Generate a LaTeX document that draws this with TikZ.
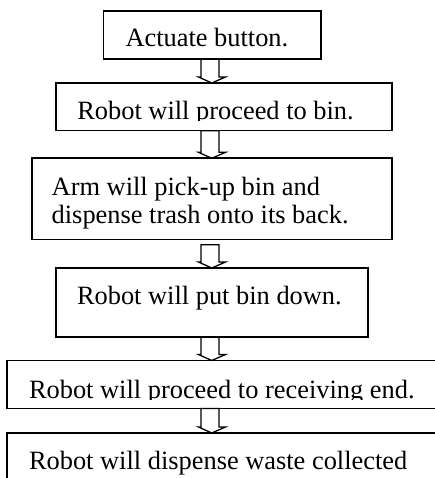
\documentclass[tikz,border=0pt]{standalone}
\usepackage{fontspec}
\setmainfont{Liberation Serif}
\usetikzlibrary{calc}
\tikzset{
  box/.style={draw, line width=1.6pt, inner sep=0pt, outer sep=0pt, anchor=north west},
  txt/.style={anchor=base west, inner sep=0pt, outer sep=0pt, font=\fontsize{26.4}{28}\selectfont},
  arr/.style={draw, line width=1.3pt, line join=miter},
}
\newcommand\blockarrow[2]{%
  \draw[arr] let \p1=(#1), \p2=(#2) in
    (\x1-9pt,\y1) -- (\x1-9pt,\y2+6pt) -- (\x1-11.5pt,\y2+6pt) -- (\x1+1.7pt,\y2)
    -- (\x1+15.5pt,\y2+6pt) -- (\x1+9pt,\y2+6pt) -- (\x1+9pt,\y1) -- cycle;}
\begin{document}
\begin{tikzpicture}[x=1pt,y=-1pt]
  \useasboundingbox (0,0) rectangle (435,478);
  \clip (0,0) rectangle (435,478);
  \coordinate (ax) at (210,0);
  % boxes
  \node[box, minimum width=217.2pt, minimum height=48pt] (b1) at (103.5,11) {};
  \node[box, minimum width=335.7pt, minimum height=47.7pt] (b2) at (56,83) {};
  \node[box, minimum width=360.3pt, minimum height=81pt] (b3) at (31.7,158.3) {};
  \node[box, minimum width=312pt, minimum height=69pt] (b4) at (56,268) {};
  \node[box, minimum width=438pt, minimum height=48pt] (b5) at (7,360.5) {};
  \node[box, minimum width=438pt, minimum height=62pt] (b6) at (7,433) {};
  % texts
  \node[txt] (t1) at ($(b1.north west)+(22,35.7)$) {Actuate button.};
  \begin{scope}
    \clip (0,0) rectangle (435,120.3);
    \node[txt] (t2) at ($(b2.north west)+(21.3,36.3)$) {Robot will proceed to bin.};
  \end{scope}
  \node[txt] (t3) at ($(b3.north west)+(20,37.4)$) {Arm will pick-up bin and};
  \node[txt] (t3b) at ($(t3.base west)+(0,28)$) {dispense trash onto its back.};
  \node[txt] (t4) at ($(b4.north west)+(21,36.3)$) {Robot will put bin down.};
  \begin{scope}
    \clip (0,0) rectangle (435,399);
    \node[txt] (t5) at ($(b5.north west)+(22,37.5)$) {Robot will proceed to receiving end.};
  \end{scope}
  \node[txt] (t6) at ($(b6.north west)+(22,36.5)$) {Robot will dispense waste collected};
  % arrows
  \blockarrow{ax |- b1.south}{ax |- b2.north}
  \blockarrow{ax |- b2.south}{ax |- b3.north}
  \blockarrow{$(ax |- b3.south)+(0,5.5)$}{ax |- b4.north}
  \blockarrow{ax |- b4.south}{ax |- b5.north}
  \blockarrow{ax |- b5.south}{ax |- b6.north}
\end{tikzpicture}
\end{document}
